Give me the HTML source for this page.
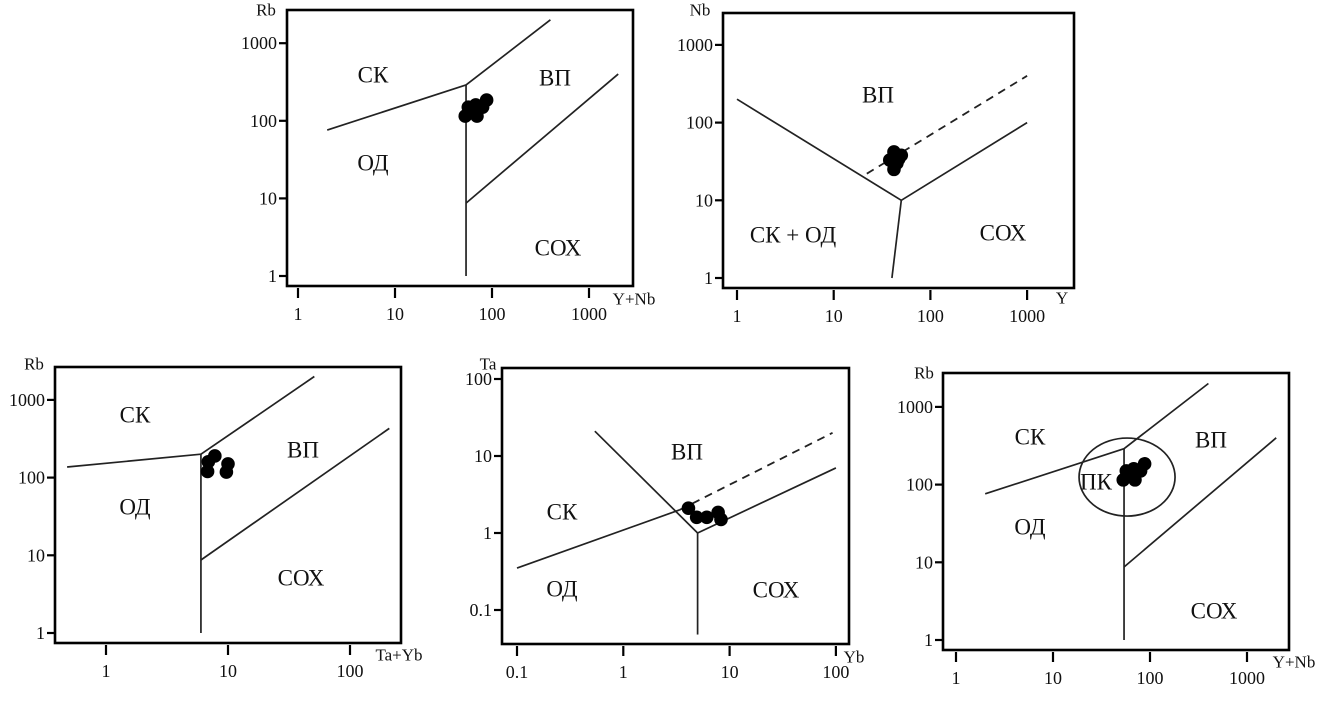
<!DOCTYPE html>
<html><head><meta charset="utf-8">
<style>
html,body{margin:0;padding:0;background:#fff;}
svg{display:block;}
text{font-family:"Liberation Serif","DejaVu Serif",serif;fill:#111;}
</style></head>
<body>
<svg id="fig" width="1336" height="706" viewBox="0 0 1336 706" xmlns="http://www.w3.org/2000/svg"></svg>
<script>
// ---- Data (values in data units) ----
// Panel 1: Rb vs Y+Nb
const p1Boundaries = [
  [[2,76],[54,290]],
  [[54,290],[400,2000]],
  [[54,1],[54,290]],
  [[54,8.7],[2000,400]]
];
const p1SamplesX = [53,57,68,70,80,88];
const p1SamplesY = [115,150,160,115,150,185];
// Panel 2: Nb vs Y
const p2Boundaries = [
  [[1,200],[50,10]],
  [[50,10],[1000,100]],
  [[50,10],[40,1]]
];
const p2Dashed = [[[22,22],[1000,400]]];
const p2SamplesX = [38,42,45,42,50,47];
const p2SamplesY = [33,42,30,25,38,34];
// Panel 3: Rb vs Ta+Yb
const p3Boundaries = [
  [[0.48,137],[6,200]],
  [[6,200],[51,2000]],
  [[6,1],[6,200]],
  [[6,8.7],[210,430]]
];
const p3SamplesX = [6.8,6.9,7.8,10,9.7];
const p3SamplesY = [120,160,190,150,118];
// Panel 4: Ta vs Yb
const p4Boundaries = [
  [[0.54,21],[5,1]],
  [[5,1],[5,0.048]],
  [[0.1,0.35],[3.4,2.0]],
  [[5,1],[100,7]]
];
const p4Dashed = [[[3.4,2.0],[93,20]]];
const p4SamplesX = [4.1,4.9,6.1,7.8,8.3];
const p4SamplesY = [2.1,1.6,1.6,1.85,1.5];
// Panel 5: Rb vs Y+Nb with post-collision field
const p5SamplesX = [53,57,68,70,80,88];
const p5SamplesY = [115,150,160,115,150,185];
const p5FieldCenter = [58,125];

// ---- Drawing ----
const NS = "http://www.w3.org/2000/svg";
const svg = document.getElementById('fig');
function mk(tag, attrs, parent){
  const e = document.createElementNS(NS, tag);
  for (const k in attrs) e.setAttribute(k, attrs[k]);
  (parent||svg).appendChild(e);
  return e;
}
function panel(cfg){
  const g = mk('g', {});
  
  
  const sx = v => cfg.x0 + cfg.xd * Math.log10(v / cfg.xref);
  const sy = v => cfg.y0 - cfg.yd * Math.log10(v / cfg.yref);
  const fr = mk('rect', {x:cfg.L, y:cfg.T, width:cfg.R-cfg.L, height:cfg.B-cfg.T, fill:'none', stroke:'#000', 'stroke-width':2.6}, g);
  
  
  cfg.yTicks.forEach((t,i)=>{
    const y = sy(t);
    mk('line', {x1:cfg.L-8, x2:cfg.L, y1:y, y2:y, stroke:'#000', 'stroke-width':2.2}, g);
    const tx = mk('text', {x:cfg.L-10, y:y, 'font-size':18, 'text-anchor':'end', 'dominant-baseline':'central'}, g);
    tx.textContent = cfg.yLabels[i];
    
    
  });
  cfg.xTicks.forEach((t,i)=>{
    const x = sx(t);
    mk('line', {x1:x, x2:x, y1:cfg.B+2, y2:cfg.B+12, stroke:'#000', 'stroke-width':2.2}, g);
    const tx = mk('text', {x:x, y:cfg.B+28, 'font-size':18, 'text-anchor':'middle', 'dominant-baseline':'central'}, g);
    tx.textContent = cfg.xLabels[i];
    
    
  });
  const yt = mk('text', {x:cfg.yTitle[0], y:cfg.yTitle[1], 'font-size':17, 'text-anchor':'middle', 'dominant-baseline':'central'}, g);
  yt.textContent = cfg.yTitle[2];
  
  
  const xt = mk('text', {x:cfg.xTitle[0], y:cfg.xTitle[1], 'font-size':17, 'text-anchor':'middle', 'dominant-baseline':'central'}, g);
  xt.textContent = cfg.xTitle[2];
  
  
  (cfg.lines||[]).forEach(seg=>{
    const l = mk('line', {x1:sx(seg[0][0]), y1:sy(seg[0][1]), x2:sx(seg[1][0]), y2:sy(seg[1][1]), stroke:'#222', 'stroke-width':1.7}, g);
    
    
  });
  (cfg.dashed||[]).forEach(seg=>{
    const l = mk('line', {x1:sx(seg[0][0]), y1:sy(seg[0][1]), x2:sx(seg[1][0]), y2:sy(seg[1][1]), stroke:'#222', 'stroke-width':1.8, 'stroke-dasharray':'8,6'}, g);
    
    
  });
  if (cfg.ellipse){
    const e = mk('ellipse', {cx:sx(cfg.ellipse[0]), cy:sy(cfg.ellipse[1]), rx:48, ry:39, fill:'none', stroke:'#222', 'stroke-width':1.7}, g);
    
    
  }
  cfg.labels.forEach(lb=>{
    const t = mk('text', {x:lb[0], y:lb[1], 'font-size':23, 'text-anchor':'middle', 'dominant-baseline':'central'}, g);
    t.textContent = lb[2];
    
    
  });
  cfg.px.forEach((xv,i)=>{
    const c = mk('circle', {cx:sx(xv), cy:sy(cfg.py[i]), r:6.8, fill:'#000'}, g);
    
    
  });
}
const dec4 = [1,10,100,1000], dec4L = ['1','10','100','1000'];
panel({name:'panel-rb-vs-ynb', L:287,T:10,R:633,B:286, x0:298,xref:1,xd:97, y0:276,yref:1,yd:77.6,
  xTicks:dec4, xLabels:dec4L, yTicks:dec4, yLabels:dec4L,
  yTitle:[266,10,'Rb'], xTitle:[634,299,'Y+Nb'],
  lines:p1Boundaries, px:p1SamplesX, py:p1SamplesY,
  labels:[[373,75,'СК'],[555,78,'ВП'],[373,163,'ОД'],[558,248,'СОХ']]});
panel({name:'panel-nb-vs-y', L:723,T:13,R:1074,B:288, x0:737,xref:1,xd:96.7, y0:278,yref:1,yd:77.7,
  xTicks:dec4, xLabels:dec4L, yTicks:dec4, yLabels:dec4L,
  yTitle:[700,10,'Nb'], xTitle:[1062,298,'Y'],
  lines:p2Boundaries, dashed:p2Dashed, px:p2SamplesX, py:p2SamplesY,
  labels:[[878,95,'ВП'],[793,235,'СК + ОД'],[1003,233,'СОХ']]});
panel({name:'panel-rb-vs-tayb', L:55,T:367,R:401,B:643, x0:106,xref:1,xd:122, y0:633,yref:1,yd:77.7,
  xTicks:[1,10,100], xLabels:['1','10','100'], yTicks:dec4, yLabels:dec4L,
  yTitle:[34,364,'Rb'], xTitle:[399,655,'Ta+Yb'],
  lines:p3Boundaries, px:p3SamplesX, py:p3SamplesY,
  labels:[[135,415,'СК'],[303,450,'ВП'],[135,507,'ОД'],[301,578,'СОХ']]});
panel({name:'panel-ta-vs-yb', L:502,T:368,R:849,B:644, x0:517,xref:0.1,xd:106.3, y0:610,yref:0.1,yd:77,
  xTicks:[0.1,1,10,100], xLabels:['0.1','1','10','100'], yTicks:[0.1,1,10,100], yLabels:['0.1','1','10','100'],
  yTitle:[488,364,'Ta'], xTitle:[854,657,'Yb'],
  lines:p4Boundaries, dashed:p4Dashed, px:p4SamplesX, py:p4SamplesY,
  labels:[[687,452,'ВП'],[562,512,'СК'],[562,589,'ОД'],[776,590,'СОХ']]});
panel({name:'panel-rb-vs-ynb-post-collision', L:943,T:373,R:1289,B:650, x0:956,xref:1,xd:97, y0:640,yref:1,yd:77.7,
  xTicks:dec4, xLabels:dec4L, yTicks:dec4, yLabels:dec4L,
  yTitle:[924,373,'Rb'], xTitle:[1294,662,'Y+Nb'],
  lines:p1Boundaries, ellipse:p5FieldCenter, px:p5SamplesX, py:p5SamplesY,
  labels:[[1030,437,'СК'],[1211,440,'ВП'],[1096,482,'ПК'],[1030,527,'ОД'],[1214,611,'СОХ']]});
</script>
</body></html>
